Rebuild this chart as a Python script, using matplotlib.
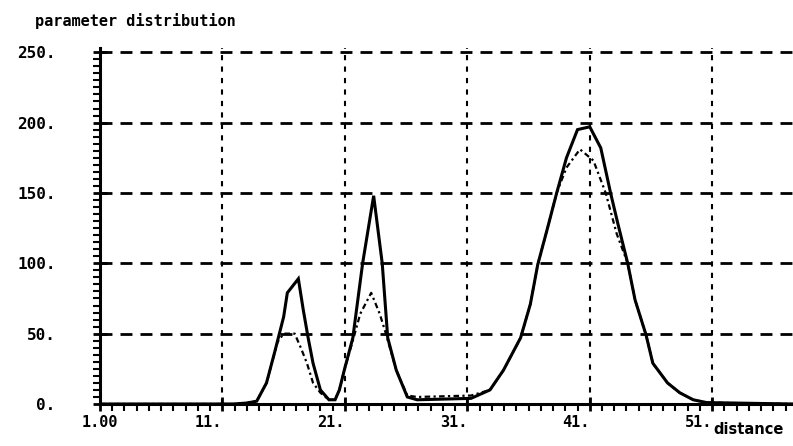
import matplotlib.pyplot as plt
from matplotlib.ticker import MultipleLocator, FixedLocator

# measured distribution (solid) and estimate (dotted)
dist_x = [1, 11.9, 13.0, 13.8, 14.6, 15.3, 16.0, 16.3, 17.2, 17.6, 18.0, 18.4, 19.0, 19.7, 20.2,
          20.55, 20.95, 21.65, 22.45, 23.35, 24.05, 24.5, 25.2, 26.1, 26.9, 31.3, 32.85, 33.95,
          35.35, 36.15, 36.75, 37.55, 38.3, 39.1, 40.0, 41.0, 41.9, 42.7, 43.3, 44.1, 44.7,
          45.6, 46.15, 47.35, 48.35, 49.45, 50.55, 57.6]
dist_y = [0, 0, 0.7, 2, 15, 38, 62, 79, 89, 67, 47, 29, 10, 3, 3,
          10, 24, 47, 100, 148, 100, 47, 24, 5, 3, 4, 10, 24,
          47, 71, 99, 125, 150, 175, 195, 197, 182, 150, 128, 100, 74,
          49, 29, 15, 8, 3, 1, 0]

est_x = [1, 11.9, 13.0, 13.8, 14.6, 15.5, 16.0, 16.9, 17.4, 17.9, 18.4, 19.0, 19.7, 20.2,
         20.55, 20.95, 21.65, 22.25, 23.15, 23.85, 24.35, 25.2, 26.1, 26.9, 31.3, 32.85, 33.95,
         35.35, 36.15, 36.75, 37.55, 38.3, 39.1, 40.2, 41.3, 42.3, 43.2, 44.1, 44.7,
         45.6, 46.15, 47.35, 48.35, 49.45, 50.55, 57.6]
est_y = [0, 0, 0.7, 2, 15, 44, 50, 50, 40, 29, 15, 8, 3, 3,
         10, 24, 45, 64, 79, 64, 50, 24, 6, 5, 6, 10, 24,
         47, 71, 99, 125, 150, 168, 181, 173, 150, 121, 100, 74,
         49, 29, 15, 8, 3, 1, 0]

x_ticks = [1, 11, 21, 31, 41, 51]
x_labels = ['1.00', '11.', '21.', '31.', '41.', '51.']
y_ticks = [0, 50, 100, 150, 200, 250]
y_labels = ['0.', '50.', '100.', '150.', '200.', '250.']

W, H = 793, 446
fig = plt.figure(figsize=(W / 100, H / 100), dpi=100)
ax = fig.add_axes([100 / W, 1 - 404 / H, 1 - 100 / W, (404 - 48) / H])

ax.plot(dist_x, dist_y, color='k', lw=2.2, solid_joinstyle='miter')
ax.plot(est_x, est_y, color='k', lw=1.6, linestyle=(0, (2.5, 1.5, 1, 1.5)))

ax.set_xlim(1, 57.6)
ax.set_ylim(0, 253)

for s in ['top', 'right']:
    ax.spines[s].set_visible(False)
for s in ['left', 'bottom']:
    ax.spines[s].set_linewidth(2.2)

ax.xaxis.set_major_locator(FixedLocator(x_ticks))
ax.xaxis.set_minor_locator(MultipleLocator(1))
ax.yaxis.set_major_locator(FixedLocator(y_ticks))
ax.yaxis.set_minor_locator(MultipleLocator(5))

ax.set_xticklabels(x_labels, family='DejaVu Sans Mono', fontweight='bold', fontsize=11)
ax.set_yticklabels(y_labels, family='DejaVu Sans Mono', fontweight='bold', fontsize=11.5)
for i, lab in enumerate(ax.get_xticklabels()):
    lab.set_ha('center' if i == 0 else 'right')

ax.tick_params(axis='both', which='major', direction='inout', length=10, width=2, color='k')
ax.tick_params(axis='both', which='minor', direction='out', length=5, width=1.5, color='k')
ax.tick_params(axis='y', which='major', pad=27)
ax.tick_params(axis='x', which='major', pad=3)

ax.grid(axis='y', color='k', lw=2, linestyle=(0, (4.3, 2.9)))
ax.grid(axis='x', color='k', lw=1.5, linestyle=(0, (2.5, 3)))

fig.text(35 / W, 1 - 21 / H, 'parameter distribution', family='DejaVu Sans Mono',
         fontweight='bold', fontsize=11, ha='left', va='center')
fig.text(749 / W, 1 - 430 / H, 'distance', family='DejaVu Sans',
         fontweight='bold', fontsize=10.5, ha='center', va='center')

fig.savefig('out.png', dpi=100)
